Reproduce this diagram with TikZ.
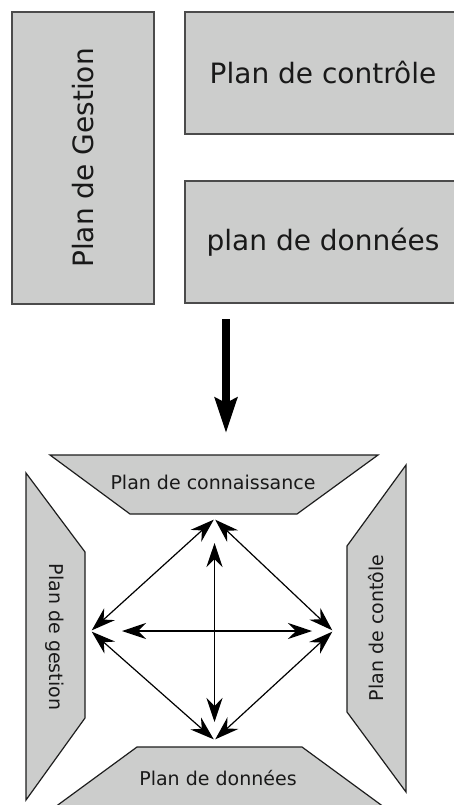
\documentclass[tikz,border=0pt]{standalone}
\usepackage{fontspec}
\setmainfont{DejaVu Sans}
\usetikzlibrary{arrows.meta}
\definecolor{boxfill}{RGB}{204,205,204}
\definecolor{boxline}{RGB}{75,75,75}
\definecolor{trapline}{RGB}{30,30,30}
\tikzset{
  bigbox/.style={draw=boxline, line width=1.6pt, fill=boxfill, inner sep=0pt,
    font=\fontsize{28}{34}\selectfont, text=black!90},
  trap/.style={draw=trapline, line width=1.2pt, fill=boxfill, line join=miter},
  lbl/.style={inner sep=0pt, font=\fontsize{19}{23}\selectfont, text=black!90},
  tipA/.tip={Stealth[length=24pt,width=16pt,inset=8pt]},
  arr/.style={line width=1.2pt, tipA-tipA},
  bigarrow/.style={line width=8pt, -{Stealth[length=35pt,width=22pt,inset=5pt]}}
}
\begin{document}
\begin{tikzpicture}[x=1pt,y=-1pt]
\clip (0,0) rectangle (454,805);
\fill[white] (0,0) rectangle (454,805);
% top part
\node[bigbox, minimum width=292pt, minimum height=142pt, rotate=90] (ges) at (83,158) {\raisebox{0pt}{Plan de Gestion}\hspace{10pt}};
\node[bigbox, minimum width=276pt, minimum height=122pt] (ctl) at (323,73) {Plan de contrôle};
\node[bigbox, minimum width=276pt, minimum height=122pt] (don) at (323,242) {plan de données};
% big arrow
\coordinate (a1) at (226,319);
\coordinate (a2) at (226,433);
\draw[bigarrow] (a1) -- (a2);
% trapezoids
\draw[trap] (50,455) -- (378,455) -- (297,514) -- (130,514) -- cycle;
\draw[trap] (26,473) -- (85,552) -- (85,718) -- (26,800) -- cycle;
\draw[trap] (406,465) -- (406,792) -- (347,712) -- (347,546) -- cycle;
\draw[trap] (137,747) -- (302,747) -- (388,810) -- (51,810) -- cycle;
\node[lbl] (kn) at (213,482) {Plan de connaissance};
\node[lbl, rotate=-90] (gs) at (55,637) {Plan de gestion};
\node[lbl, rotate=90] (ct) at (376,628) {Plan de contôle};
\node[lbl] (dn) at (218,778) {Plan de données};
% arrows
\coordinate (T) at (214.5,519);
\coordinate (L) at (91,631);
\coordinate (R) at (333,631);
\coordinate (B) at (214.5,740);
\coordinate (hl) at (122,631);
\coordinate (hr) at (312,631);
\coordinate (vt) at (214.5,543);
\coordinate (vb) at (214.5,722);
\draw[arr, shorten <=1pt, shorten >=1pt] (T) -- (L);
\draw[arr, shorten <=1pt, shorten >=1pt] (T) -- (R);
\draw[arr, shorten <=1pt, shorten >=1pt] (B) -- (L);
\draw[arr, shorten <=1pt, shorten >=1pt] (B) -- (R);
\draw[arr] (hl) -- (hr);
\draw[arr] (vt) -- (vb);
\end{tikzpicture}
\end{document}
